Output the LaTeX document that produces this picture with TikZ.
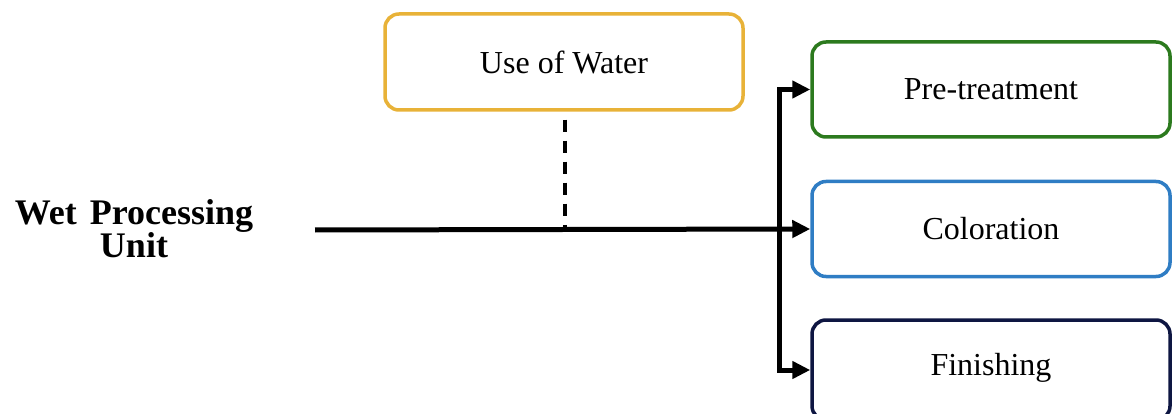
\documentclass[tikz,border=0pt]{standalone}
\usepackage{fontspec}
\setmainfont{Liberation Serif}
\usetikzlibrary{arrows.meta}
\definecolor{cwater}{HTML}{E8B238}
\definecolor{cpre}{HTML}{2C7A1E}
\definecolor{ccol}{HTML}{2F7DC4}
\definecolor{cfin}{HTML}{0E1642}
\begin{document}
\begin{tikzpicture}[x=1pt,y=-1pt,
  box/.style={draw, line width=3.5pt, rounded corners=14pt, fill=white,
    minimum width=358pt, minimum height=95pt, inner sep=0pt,
    font=\fontsize{32}{36}\selectfont},
  conn/.style={line width=5pt, -{Triangle[length=18pt,width=17pt]}}]
\useasboundingbox (0,0) rectangle (1172,414);
\clip (0,0) rectangle (1172,414);
\node[box, draw=cwater, minimum width=358pt, minimum height=96pt] (water) at (564,62) {Use of Water};
\node[box, draw=cpre] (pre) at (991,89.5) {Pre-treatment};
\node[box, draw=ccol] (col) at (991,229) {Coloration};
\node[box, draw=cfin, minimum height=100pt] (fin) at (991,370) {};
\node[font=\fontsize{32}{36}\selectfont] (fintext) at (991,368) {Finishing};
\node[align=center, font=\bfseries\fontsize{36}{33}\selectfont] (wpu) at (134,229) {Wet\ \hspace{4pt}Processing\\Unit};
\coordinate (start) at (315,230);
\coordinate (junc) at (779,230);
\coordinate (tap) at (565,230);
\draw[conn] (start) -- (col.west);
\draw[conn] (junc) |- (pre.west);
\draw[conn] (junc) |- (fin.west);
\draw[line width=3.5pt, dash pattern=on 12pt off 9pt] ([yshift=-8pt]water.south -| tap) -- (tap);
\end{tikzpicture}
\end{document}
